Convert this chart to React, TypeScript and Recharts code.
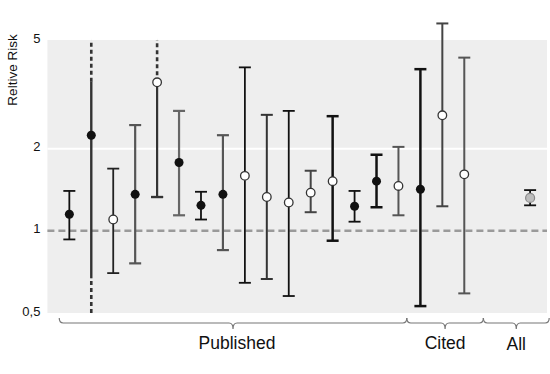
import React from "react";
import {
  ScatterChart,
  Scatter,
  XAxis,
  YAxis,
  ErrorBar,
  ReferenceLine,
  ReferenceArea,
} from "recharts";

// study positions along the x axis (gap before the pooled estimate)
const positions = [1, 2, 3, 4, 5, 6, 7, 8, 9, 10, 11, 12, 13, 14, 15, 16, 17, 18, 19, 22];
const relativeRisk = [1.15, 2.24, 1.1, 1.36, 3.5, 1.78, 1.24, 1.36, 1.59, 1.33, 1.27, 1.38, 1.52, 1.23, 1.52, 1.46, 1.42, 2.65, 1.61, 1.32];
const ciLower = [0.93, 0.67, 0.7, 0.76, 1.33, 1.14, 1.1, 0.85, 0.645, 0.666, 0.577, 1.17, 0.92, 1.08, 1.22, 1.14, 0.53, 1.23, 0.59, 1.24];
const ciUpper = [1.4, 3.52, 1.69, 2.44, 3.5, 2.75, 1.39, 2.24, 3.97, 2.66, 2.75, 1.66, 2.63, 1.4, 1.9, 2.03, 3.91, 5.75, 4.31, 1.41];
// interval runs off the scale (drawn dashed)
const offScaleUp = [false, true, false, false, true, false, false, false, false, false, false, false, false, false, false, false, false, false, false, false];
const offScaleDown = [false, true, false, false, false, false, false, false, false, false, false, false, false, false, false, false, false, false, false, false];
const markerKind = ["filled", "filled", "open", "filled", "open", "filled", "filled", "filled", "open", "open", "open", "open", "open", "filled", "filled", "open", "filled", "open", "open", "pooled"];

const yTicks = [0.5, 1, 2, 5];
const groupNames = ["Published", "Cited", "All"];
const groupFrom = [0.54, 16.38, 19.87];
const groupTo = [16.38, 19.87, 22.87];

// styling, per study
const barColor = ["#111", "#333", "#222", "#555", "#333", "#666", "#111", "#555", "#111", "#333", "#111", "#444", "#111", "#111", "#111", "#555", "#111", "#444", "#555", "#111"];
const barWidth = [1.8, 2.4, 1.8, 2.2, 2.2, 2.2, 1.8, 2.2, 1.8, 2, 1.8, 2, 2.5, 1.8, 2.5, 2, 2.5, 2, 2, 1.8];
const capMode = ["both", "none", "both", "both", "lower", "both", "both", "both", "both", "both", "both", "both", "both", "both", "both", "both", "both", "both", "both", "both"];

const W = 550;
const H = 374;
const PLOT_LEFT = 47.4;
const PLOT_RIGHT = 547;
const X_MAX = 22.77;
const Y_MIN = 0.5;
const Y_MAX = 6;
const AXIS_TOP = 5;
const FONT = "'Liberation Sans', Arial, sans-serif";

const xPx = (v: number) => PLOT_LEFT + (v * (PLOT_RIGHT - PLOT_LEFT)) / X_MAX;

const Dot = (kind: string) => (props: any) => {
  const { cx, cy } = props;
  if (kind === "filled") return <circle cx={cx} cy={cy} r={4.5} fill="#111" />;
  if (kind === "pooled")
    return <circle cx={cx} cy={cy} r={4.5} fill="#bdbdbd" stroke="#888" strokeWidth={1.2} />;
  return <circle cx={cx} cy={cy} r={4.3} fill="#fff" stroke="#333" strokeWidth={1.3} />;
};

const NoDot = () => <g />;

const YTick = ({ x, y, payload }: any) => (
  <text x={x} y={y - 2} dy="0.355em" textAnchor="end" fontSize={13} fill="#111" fontFamily={FONT}>
    {String(payload.value).replace(".", ",")}
  </text>
);

function bracePath(a: number, b: number) {
  const y0 = 318;
  const y1 = 323;
  const y2 = 329;
  const m = (a + b) / 2;
  const r = 4;
  return `M${a},${y0} Q${a},${y1} ${a + r},${y1} L${m - r},${y1} Q${m},${y1} ${m},${y2} Q${m},${y1} ${m + r},${y1} L${b - r},${y1} Q${b},${y1} ${b},${y0}`;
}

export default function App() {
  const dashed: any[] = [];
  positions.forEach((x, i) => {
    if (offScaleUp[i]) dashed.push({ x, y: ciUpper[i], err: [0, AXIS_TOP - ciUpper[i]] });
    if (offScaleDown[i]) dashed.push({ x, y: ciLower[i], err: [ciLower[i] - Y_MIN, 0] });
  });
  const lowerCaps = positions
    .map((x, i) => ({ x, y: ciLower[i], err: [0, 0], mode: capMode[i] }))
    .filter((d) => d.mode === "lower");

  return (
    <div style={{ position: "absolute", left: 0, top: 0, width: W, height: H, background: "#fff" }}>
      <ScatterChart
        width={W}
        height={H}
        margin={{ top: 18.4, right: W - PLOT_RIGHT, bottom: 61, left: 0 }}
      >
        <XAxis type="number" dataKey="x" domain={[0, X_MAX]} hide />
        <YAxis
          type="number"
          dataKey="y"
          scale="log"
          domain={[Y_MIN, Y_MAX]}
          ticks={yTicks}
          interval={0}
          width={PLOT_LEFT}
          axisLine={false}
          tickLine={false}
          tickSize={0}
          tickMargin={7}
          tick={<YTick />}
        />
        <ReferenceArea y1={Y_MIN} y2={AXIS_TOP} fill="#eeeeee" fillOpacity={1} stroke="none" />
        <ReferenceLine y={2} stroke="#fff" strokeWidth={2} />
        <ReferenceLine y={1} stroke="#9a9a9a" strokeWidth={2.5} strokeDasharray="7 4" />

        <Scatter data={dashed} shape={NoDot} isAnimationActive={false}>
          <ErrorBar
            dataKey="err"
            direction="y"
            width={0}
            stroke="#333"
            strokeWidth={2.6}
            strokeDasharray="4 3"
            isAnimationActive={false}
          />
        </Scatter>
        <Scatter data={lowerCaps} shape={NoDot} isAnimationActive={false}>
          <ErrorBar dataKey="err" direction="y" width={6} stroke="#333" strokeWidth={2.2} isAnimationActive={false} />
        </Scatter>

        {positions.map((x, i) => (
          <Scatter
            key={i}
            data={[{ x, y: relativeRisk[i], err: [relativeRisk[i] - ciLower[i], ciUpper[i] - relativeRisk[i]] }]}
            shape={Dot(markerKind[i])}
            isAnimationActive={false}
          >
            <ErrorBar
              dataKey="err"
              direction="y"
              width={capMode[i] === "both" ? 6 : 0}
              stroke={barColor[i]}
              strokeWidth={barWidth[i]}
              isAnimationActive={false}
            />
          </Scatter>
        ))}
      </ScatterChart>

      <svg
        width={W}
        height={H}
        style={{ position: "absolute", left: 0, top: 0, pointerEvents: "none" }}
      >
        <text
          transform="translate(17.3, 70) rotate(-90)"
          textAnchor="middle"
          fontSize={13.5}
          fill="#111"
          fontFamily={FONT}
        >
          Reltive Risk
        </text>
        {groupNames.map((name, i) => {
          const a = xPx(groupFrom[i]);
          const b = xPx(groupTo[i]);
          return (
            <g key={name}>
              <path d={bracePath(a, b)} fill="none" stroke="#777" strokeWidth={1.2} />
              <text
                x={(a + b) / 2 + (i === 0 ? 4 : 0)}
                y={i === 2 ? 350 : 348.5}
                textAnchor="middle"
                fontSize={17.5}
                fill="#111"
                fontFamily={FONT}
              >
                {name}
              </text>
            </g>
          );
        })}
      </svg>
    </div>
  );
}
